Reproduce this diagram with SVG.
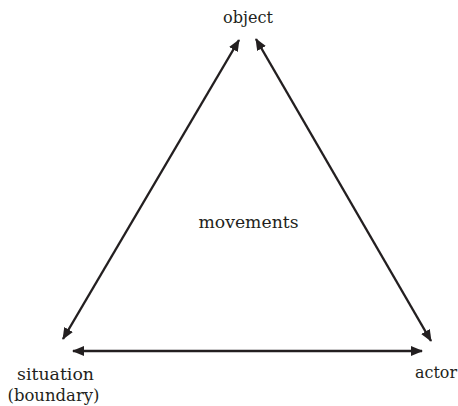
<svg xmlns="http://www.w3.org/2000/svg" width="458" height="406" viewBox="0 0 458 406">
<style>
text{font-family:"DejaVu Serif","Liberation Serif",serif;font-size:16.5px;fill:#231f20;text-anchor:middle}
.c{stroke:#231f20;stroke-width:2.4;fill:none;marker-start:url(#ah);marker-end:url(#ah)}
</style>
<defs>
<marker id="ah" viewBox="0 0 12 10" refX="11" refY="5" markerWidth="12" markerHeight="10" markerUnits="userSpaceOnUse" orient="auto-start-reverse">
<path d="M0,0 L12,5 L0,10 Z" fill="#231f20"/>
</marker>
</defs>
<rect width="458" height="406" fill="#fff"/>
<g id="connectors">
<path class="c" d="M239,40 L63,339"/>
<path class="c" d="M256,39 L431,341"/>
<path class="c" d="M73,351 L422,351"/>
</g>
<g id="object"><text x="248" y="23" textLength="50" lengthAdjust="spacingAndGlyphs">object</text></g>
<g id="movements"><text x="248.5" y="228" textLength="100" lengthAdjust="spacingAndGlyphs">movements</text></g>
<g id="situation"><text x="55.5" y="380" textLength="77" lengthAdjust="spacingAndGlyphs">situation</text><text x="53.5" y="401" textLength="92" lengthAdjust="spacingAndGlyphs">(boundary)</text></g>
<g id="actor"><text x="436" y="378" textLength="42" lengthAdjust="spacingAndGlyphs">actor</text></g>
</svg>
